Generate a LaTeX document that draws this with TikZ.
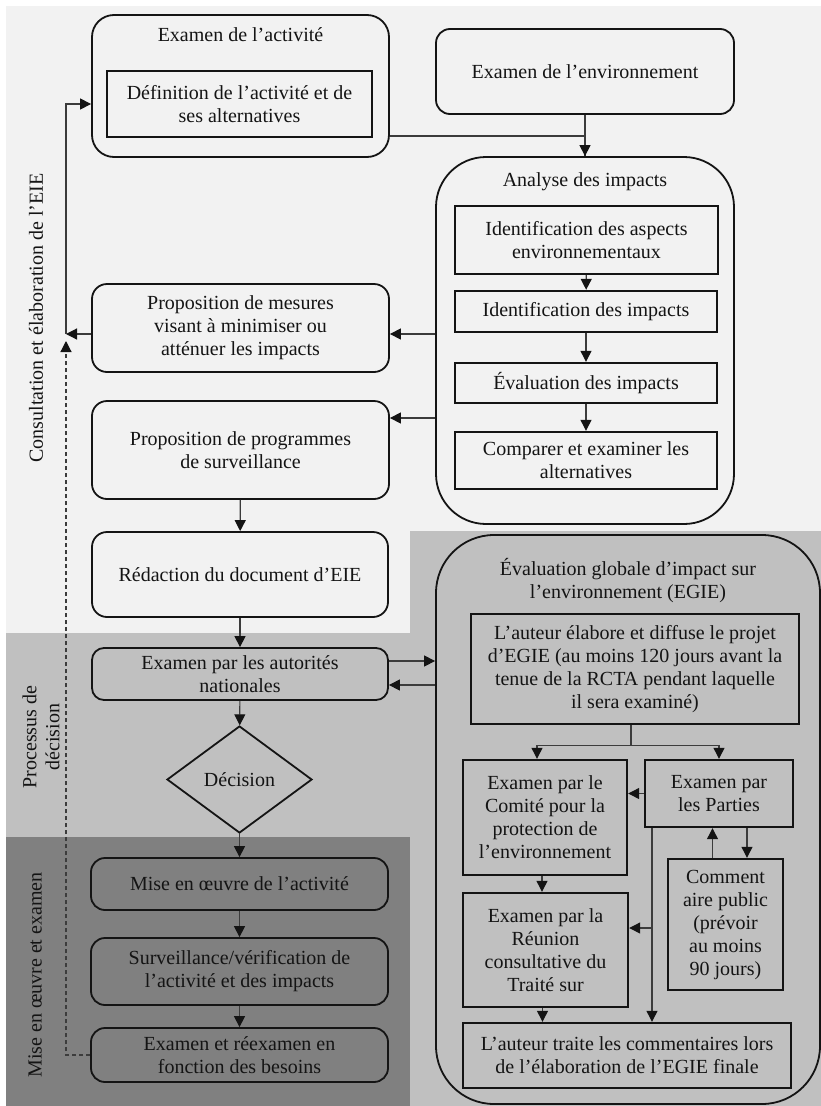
\documentclass[tikz,border=0pt]{standalone}
\usepackage{fontspec}
\setmainfont{Liberation Serif}
\usepackage{tikz}
\usetikzlibrary{arrows.meta,shapes.geometric}
\definecolor{fondclair}{RGB}{242,242,242}
\definecolor{fondmoyen}{RGB}{192,192,192}
\definecolor{fondsombre}{RGB}{128,128,128}
\definecolor{trait}{RGB}{20,20,20}
\definecolor{fleche}{RGB}{60,60,60}

\begin{document}
\begin{tikzpicture}[x=1pt, y=-1pt,
  font=\fontsize{20}{23}\selectfont, text=trait,
  boite/.style={draw=trait, line width=1.8pt, rounded corners=15pt, align=center, inner sep=0pt},
  cadre/.style={draw=trait, line width=2.4pt, align=center, inner sep=0pt},
  ligne/.style={draw=fleche, line width=1.2pt},
  fl/.style={ligne, -{Triangle[length=11pt,width=11pt,color=trait]}},
  tirets/.style={dash pattern=on 4pt off 3pt}]
\useasboundingbox (0,0) rectangle (821,1106);

%% fonds
\fill[fondclair] (6,6) -- (821,6) -- (821,531) -- (410,531) -- (410,633) -- (6,633) -- cycle;
\fill[fondmoyen] (410,531) rectangle (821,1106);
\fill[fondmoyen] (6,633) rectangle (410,837);
\fill[fondsombre] (6,837) rectangle (410,1106);

\node[rotate=90] (phase1) at (36,318) {Consultation et élaboration de l’EIE};
\node[rotate=90, align=center] (phase2) at (41,737) {Processus de\\décision};
\node[rotate=90] (phase3) at (35,975) {Mise en œuvre et examen};

%% colonne gauche
\node[boite, rounded corners=22pt, minimum width=297pt, minimum height=142pt] (act) at (240.5,86) {};
\node (acttitre) at (240.5,35) {Examen de l’activité};
\node[cadre, minimum width=265pt, minimum height=66pt] (actdef) at (239.5,104) {Définition de l’activité et de\\ses alternatives};
\node[boite, minimum width=297pt, minimum height=88pt] (mes) at (240.5,328) {Proposition de mesures\\visant à minimiser ou\\atténuer les impacts};
\node[boite, minimum width=297pt, minimum height=98pt] (prog) at (240.5,450) {Proposition de programmes\\de surveillance};
\node[boite, minimum width=296pt, minimum height=85pt] (red) at (240,574.5) {Rédaction du document d’EIE};
\node[boite, rounded corners=12pt, minimum width=296pt, minimum height=52pt] (aut) at (240,674) {Examen par les autorités\\nationales};
\node[draw=trait, line width=1.8pt, diamond, minimum width=145pt, minimum height=107pt, inner sep=0pt] (dec) at (239.5,779.5) {Décision};
\node[boite, rounded corners=14pt, minimum width=297pt, minimum height=52pt] (mise) at (239.5,884) {Mise en œuvre de l’activité};
\node[boite, rounded corners=14pt, minimum width=297pt, minimum height=67pt] (surv) at (239.5,971.5) {Surveillance/vérification de\\l’activité et des impacts};
\node[boite, rounded corners=14pt, minimum width=297pt, minimum height=54pt] (reex) at (239.5,1055) {Examen et réexamen en\\fonction des besoins};

%% analyse
\node[boite, rounded corners=14pt, minimum width=298pt, minimum height=85pt] (env) at (585,71.5) {Examen de l’environnement};
\node[boite, rounded corners=50pt, minimum width=298pt, minimum height=367pt] (ana) at (585,340.5) {};
\node (anatitre) at (585,182) {Analyse des impacts};
\node[cadre, minimum width=263pt, minimum height=68pt] (asp) at (586.5,240) {Identification des aspects\\environnementaux};
\node[cadre, minimum width=262pt, minimum height=41pt] (idimp) at (586,311.5) {Identification des impacts};
\node[cadre, minimum width=262pt, minimum height=40pt] (evimp) at (586,383) {Évaluation des impacts};
\node[cadre, minimum width=262pt, minimum height=57pt] (comp) at (586,460.5) {Comparer et examiner les\\alternatives};

%% EGIE
\node[boite, rounded corners=58pt, minimum width=384pt, minimum height=569pt] (egie) at (628,819.5) {};
\node[align=center] (egietitre) at (628,581) {Évaluation globale d’impact sur\\l’environnement (EGIE)};
\node[cadre, minimum width=328pt, minimum height=110pt] (projet) at (635,669) {L’auteur élabore et diffuse le projet\\d’EGIE (au moins 120 jours avant la\\tenue de la RCTA pendant laquelle\\il sera examiné)};
\node[cadre, minimum width=164pt, minimum height=115pt] (cpe) at (545,817.5) {Examen par le\\Comité pour la\\protection de\\l’environnement};
\node[cadre, minimum width=148pt, minimum height=67pt] (parties) at (719,793.5) {Examen par\\les Parties};
\node[cadre, minimum width=115pt, minimum height=131pt] (comm) at (725.5,924.5) {Comment\\aire public\\(prévoir\\au moins\\90 jours)};
\node[cadre, minimum width=165pt, minimum height=114pt] (rcta) at (545.5,950) {Examen par la\\Réunion\\consultative du\\Traité sur};
\node[cadre, minimum width=328pt, minimum height=65pt] (final) at (627,1055.5) {L’auteur traite les commentaires lors\\de l’élaboration de l’EGIE finale};

%% liaisons
\draw[ligne] ([yshift=22pt]act.south east) -| (ana.north);
\draw[fl] (env.south) -- (ana.north);
\draw[fl] (asp) -- (idimp);
\draw[fl] (idimp) -- (evimp);
\draw[fl] (evimp) -- (comp);
\coordinate (retour) at (66,334);
\draw[fl] (ana.west |- retour) -- (mes.east |- retour);
\coordinate (versprog) at ([yshift=32pt]prog.east);
\draw[fl] (ana.west |- versprog) -- (versprog);
\draw[fl] (mes.west |- retour) -- (retour);
\draw[fl] (retour) |- (act.west |- actdef.west);
\coordinate (retourb) at (66,341);
\draw[fl, tirets] (reex.west) -| (retourb);
\draw[fl] (prog) -- (red);
\draw[fl] (red) -- (aut);
\coordinate (autvers) at ([yshift=13pt]aut.east);
\coordinate (autdepuis) at ([yshift=-11pt]aut.east);
\draw[fl] (autvers) -- (egie.west |- autvers);
\draw[fl] (egie.west |- autdepuis) -- (autdepuis);
\draw[fl] (aut) -- (dec);
\draw[fl] (dec) -- (mise);
\draw[fl] (mise) -- (surv);
\draw[fl] (surv) -- (reex);

\draw[ligne] ([xshift=-4pt]projet.south) -- ++(0,20) coordinate (partage);
\draw[fl] (partage) -| ([xshift=-8pt]cpe.north);
\draw[fl] (partage) -| (parties.north);
\draw[fl] (parties.west) -- (cpe.east |- parties.west);
\coordinate (monte) at ([xshift=-13pt]comm.north);
\draw[fl] (monte) -- (monte |- parties.south);
\coordinate (descend) at ([xshift=28pt]parties.south);
\draw[fl] (descend) -- (descend |- comm.north);
\coordinate (pv) at ([xshift=-67pt]parties.south);
\coordinate (versrcta) at ([yshift=22pt]rcta.east);
\draw[fl] (pv) -- (pv |- final.north);
\draw[fl] (pv |- versrcta) -- (versrcta);
\draw[fl] ([xshift=-3pt]cpe.south) -- ([xshift=-3pt]cpe.south |- rcta.north);
\draw[fl] ([xshift=-3pt]rcta.south) -- ([xshift=-3pt]rcta.south |- final.north);

\end{tikzpicture}
\end{document}
